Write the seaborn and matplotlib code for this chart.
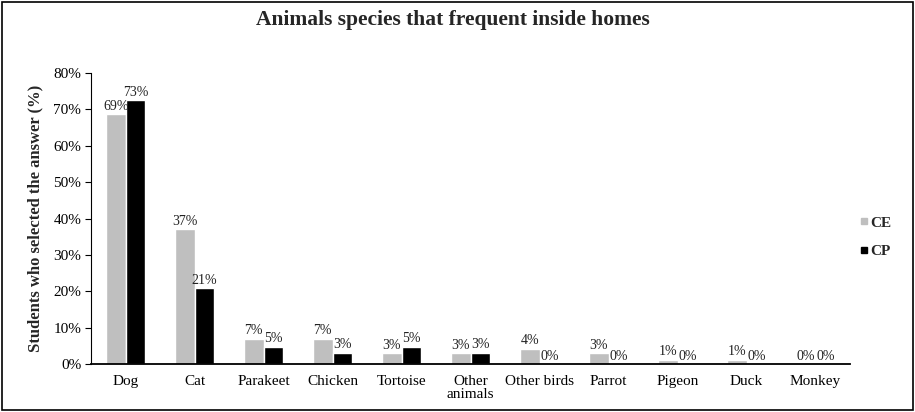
import matplotlib
matplotlib.use("Agg")
import matplotlib.pyplot as plt
from matplotlib.patches import Rectangle
from matplotlib.lines import Line2D
from matplotlib.ticker import FuncFormatter
import seaborn as sns
import pandas as pd

categories = ["Dog", "Cat", "Parakeet", "Chicken", "Tortoise", "Other\nanimals",
              "Other birds", "Parrot", "Pigeon", "Duck", "Monkey"]
ce_values = [68.6, 37.0, 7.0, 7.0, 2.9, 2.9, 4.2, 2.9, 1.2, 1.2, 0.0]
cp_values = [72.6, 20.8, 4.8, 3.1, 4.8, 3.1, 0.0, 0.0, 0.0, 0.0, 0.0]
groups = ["CE", "CP"]
colors = ["#BFBFBF", "#000000"]

df = pd.DataFrame({
    "species": categories * 2,
    "group": [groups[0]] * len(categories) + [groups[1]] * len(categories),
    "pct": ce_values + cp_values,
})

sns.set_theme(style="white")
plt.rcParams["font.family"] = ["Liberation Serif", "DejaVu Serif"]

fig = plt.figure(figsize=(9.15, 4.12), dpi=100)
ax = fig.add_axes([0.0995, 0.1165, 0.8295, 0.7063])

sns.barplot(data=df, x="species", y="pct", hue="group", order=categories,
            hue_order=groups, palette=colors, width=0.57, gap=0,
            saturation=1, legend=False, ax=ax)

# value labels above each bar
for container in ax.containers:
    ax.bar_label(container, labels=[f"{round(v.get_height())}%" for v in container],
                 padding=1, fontsize=10, color="#222222")

ax.set_ylim(0, 80)
ax.set_xlim(-0.5, len(categories) - 0.5)
ax.set_yticks(range(0, 81, 10))
ax.yaxis.set_major_formatter(FuncFormatter(lambda v, _: f"{int(v)}%"))
ax.tick_params(axis="y", which="major", direction="out", length=4, width=0.8,
               left=True, labelsize=11, pad=3, colors="black")
ax.tick_params(axis="x", length=0, labelsize=11, pad=8, colors="black")
for lbl in ax.get_xticklabels():
    lbl.set_linespacing(0.95)

ax.set_xlabel("")
ax.set_ylabel("Students who selected the answer (%)", fontsize=12,
              fontweight="bold", labelpad=7)
for side in ["top", "right"]:
    ax.spines[side].set_visible(False)
ax.spines["left"].set_color("black")
ax.spines["left"].set_linewidth(0.8)
ax.spines["bottom"].set_color("black")
ax.spines["bottom"].set_linewidth(1.3)

fig.suptitle("Animals species that frequent inside homes", x=0.495, y=0.975,
             fontsize=15.5, fontweight="bold")

handles = [Line2D([0], [0], marker="s", linestyle="", markersize=5,
                  markerfacecolor=c, markeredgecolor=c) for c in colors]
leg = fig.legend(handles, groups, loc="center left", bbox_to_anchor=(0.925, 0.425),
                 frameon=False, handlelength=0.5, handletextpad=0.15,
                 labelspacing=0.95, prop={"weight": "bold", "size": 11})

fig.add_artist(Rectangle((0.002, 0.004), 0.996, 0.992, transform=fig.transFigure,
                         fill=False, edgecolor="black", linewidth=1.2))

fig.savefig("out.png", dpi=100)
